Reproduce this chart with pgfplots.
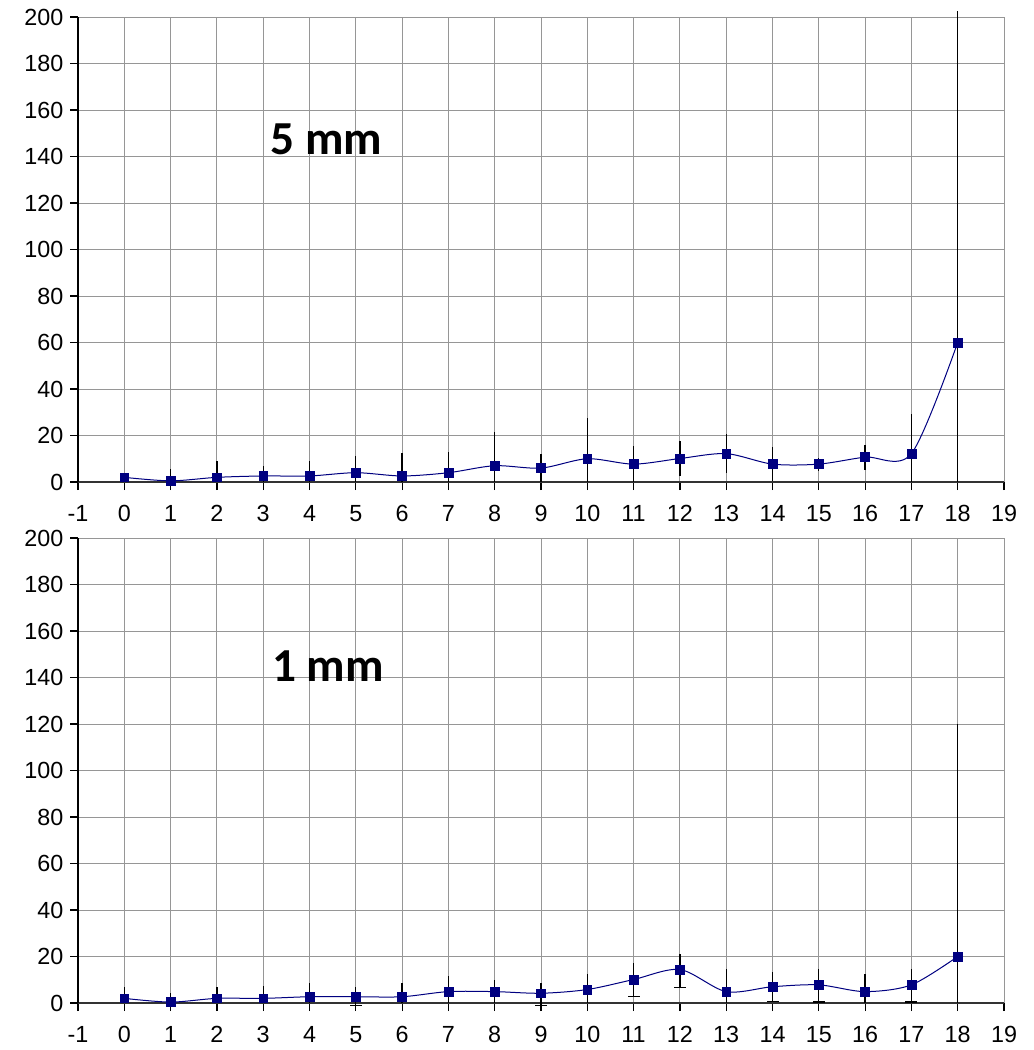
\documentclass[border=0pt]{standalone}
\usepackage{fontspec}
\setmainfont{Liberation Sans}
\newfontfamily\calibri{Carlito}
\usepackage{pgfplots}
\pgfplotsset{compat=1.18}
\definecolor{navyline}{RGB}{0,0,128}
\definecolor{gridgray}{RGB}{150,150,150}
\pgfplotsset{
 myaxis/.style={
  scale only axis, width=694.5pt, height=348.75pt,
  xmin=-1, xmax=19, ymin=0, ymax=200,
  xtick={-1,0,...,19}, ytick={0,20,...,200},
  axis lines=left, axis line style={-, line width=0.9pt},
  x axis line style={draw=black!80},
  grid=major, major grid style={gridgray, line width=0.75pt},
  tick align=outside, major tick length=6pt, tick style={black, line width=0.9pt},
  ticklabel style={font=\fontsize{17.5}{20}\selectfont},
  /pgf/number format/assume math mode=true,
  clip=false,
  xticklabel style={yshift=-8pt},
  yticklabel style={xshift=-1.5pt},
 },
 ebar/.style={only marks, mark=none, forget plot,
  error bars/y explicit, error bars/error bar style={black, line width=1pt}},
 mline/.style={navyline, line width=0.75pt, smooth, tension=0.5, mark=none},
 mmark/.style={only marks, mark=square*, mark size=3.3pt, mark options={draw=navyline, fill=navyline}},
}
\begin{document}
\begin{tikzpicture}
\path[use as bounding box] (0,0) rectangle (774.75pt,-787.5pt);
% ---------- 5 mm ----------
\begin{axis}[myaxis, at={(58.5pt,-361.5pt)}, anchor=south west]
\addplot[mline] coordinates {
(0,2) (1,0.5) (2,2) (3,2.6) (4,2.6) (5,4) (6,2.6) (7,4) (8,7) (9,6)
(10,10) (11,7.7) (12,10.1) (13,12.2) (14,7.7) (15,7.7) (16,10.7) (17,12.2) (18,60)};
\addplot[ebar, error bars/y dir=plus, error bars/error mark=none] coordinates {
(0,2) += (0,2) (1,0.5) += (0,5) (2,2) += (0,7) (3,2.6) += (0,4.2) (4,2.6) += (0,6.4)
(5,4) += (0,7.2) (6,2.6) += (0,9.7) (7,4) += (0,8.8) (8,7) += (0,14.4) (9,6) += (0,6)
(10,10) += (0,17.5) (11,7.7) += (0,7.8) (12,10.1) += (0,7.7) (13,12.2) += (0,8.5)
(14,7.7) += (0,7.2) (15,7.7) += (0,2.8) (16,10.7) += (0,5.4) (17,12.2) += (0,17.1)
(18,60) += (0,142.5)};
\addplot[ebar, error bars/y dir=minus, error bars/error mark=none] coordinates {
(0,2) -= (0,2) (1,0.5) -= (0,0.5) (2,2) -= (0,2) (3,2.6) -= (0,2.6) (4,2.6) -= (0,2.6)
(5,4) -= (0,4) (6,2.6) -= (0,2.6) (7,4) -= (0,4) (8,7) -= (0,7) (9,6) -= (0,6)
(10,10) -= (0,10) (11,7.7) -= (0,7.7) (12,10.1) -= (0,7.7) (13,12.2) -= (0,8.5)
(14,7.7) -= (0,7.2) (15,7.7) -= (0,2.8) (16,10.7) -= (0,5.4) (17,12.2) -= (0,12.2)
(18,60) -= (0,60)};
\addplot[mmark] coordinates {
(0,2) (1,0.5) (2,2) (3,2.6) (4,2.6) (5,4) (6,2.6) (7,4) (8,7) (9,6)
(10,10) (11,7.7) (12,10.1) (13,12.2) (14,7.7) (15,7.7) (16,10.7) (17,12.2) (18,60)};
\node[anchor=base west, inner sep=0pt, font=\calibri\bfseries\fontsize{35.5}{40}\selectfont] at (axis cs:3.15,141) {5 mm};
\end{axis}
% ---------- 1 mm ----------
\begin{axis}[myaxis, at={(58.5pt,-752.25pt)}, anchor=south west]
\addplot[mline] coordinates {
(0,2) (1,0.4) (2,2) (3,2) (4,2.7) (5,2.7) (6,2.7) (7,4.9) (8,4.9) (9,4.2)
(10,5.8) (11,10.1) (12,14.4) (13,4.9) (14,7) (15,7.8) (16,4.9) (17,7.8) (18,20)};
\addplot[ebar, error bars/y dir=plus, error bars/error mark=none] coordinates {
(0,2) += (0,4.8) (1,0.4) += (0,3.8) (2,2) += (0,4.8) (3,2) += (0,5.3) (4,2.7) += (0,5.8)
(5,2.7) += (0,4.1) (6,2.7) += (0,5.8) (7,4.9) += (0,6.9) (8,4.9) += (0,5) (9,4.2) += (0,4.6)
(10,5.8) += (0,6.6) (11,10.1) += (0,7) (12,14.4) += (0,6.8) (13,4.9) += (0,9.6)
(14,7) += (0,6.2) (15,7.8) += (0,6.9) (16,4.9) += (0,7.6) (17,7.8) += (0,7)
(18,20) += (0,100)};
\addplot[ebar, error bars/y dir=minus, error bars/error mark=none] coordinates {
(0,2) -= (0,2) (1,0.4) -= (0,0.4) (2,2) -= (0,2) (3,2) -= (0,2) (4,2.7) -= (0,2.7)
(6,2.7) -= (0,2.7) (7,4.9) -= (0,4.9) (8,4.9) -= (0,4.9) (10,5.8) -= (0,5.8)
(13,4.9) -= (0,4.9) (16,4.9) -= (0,4.9) (18,20) -= (0,20)};
\addplot[ebar, error bars/y dir=minus, error bars/error mark=-,
  error bars/error mark options={rotate=90, mark size=4.5pt, line width=1pt, black}] coordinates {
(5,2.7) -= (0,3.9) (9,4.2) -= (0,5.4) (11,10.1) -= (0,7.2) (12,14.4) -= (0,7.8)
(14,7) -= (0,6.4) (15,7.8) -= (0,7.4) (17,7.8) -= (0,7.4)};
\addplot[mmark] coordinates {
(0,2) (1,0.4) (2,2) (3,2) (4,2.7) (5,2.7) (6,2.7) (7,4.9) (8,4.9) (9,4.2)
(10,5.8) (11,10.1) (12,14.4) (13,4.9) (14,7) (15,7.8) (16,4.9) (17,7.8) (18,20)};
\node[anchor=base west, inner sep=0pt, font=\calibri\bfseries\fontsize{35.5}{40}\selectfont] at (axis cs:3.19,138.2) {1 mm};
\end{axis}
\end{tikzpicture}
\end{document}
